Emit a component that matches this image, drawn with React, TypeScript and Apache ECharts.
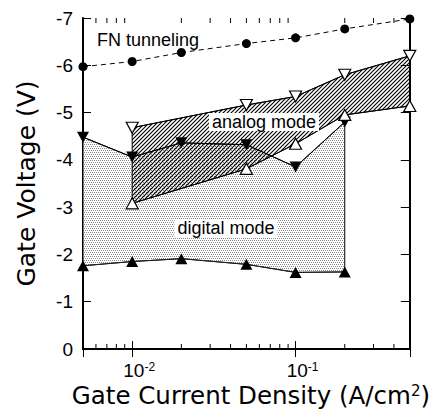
import React, { useEffect, useRef } from 'react';
import * as echarts from 'echarts';

// ---- data ----
const currentDensity = [0.005, 0.01, 0.02, 0.05, 0.1, 0.2, 0.5];
const fnTunneling = [-5.97, -6.08, -6.27, -6.46, -6.58, -6.77, -6.98];

const analogDensity = [0.01, 0.05, 0.1, 0.2, 0.5];
const analogUpper = [-4.68, -5.16, -5.34, -5.8, -6.2];
const analogLower = [-3.08, -3.81, -4.34, -4.95, -5.14];

const digitalDensity = [0.005, 0.01, 0.02, 0.05, 0.1, 0.2];
const digitalUpper = [-4.48, -4.06, -4.36, -4.32, -3.85, -4.8];
const digitalLower = [-1.76, -1.85, -1.91, -1.79, -1.62, -1.63];

const xMajorTicks = [0.01, 0.1];
const xTickLabels = ['10{sup|-2}', '10{sup|-1}'];
const xMinorTicks = [0.006, 0.007, 0.008, 0.009, 0.02, 0.03, 0.04, 0.05, 0.06, 0.07, 0.08, 0.09, 0.2, 0.3, 0.4];

const FONT = "'Liberation Sans', Arial, Helvetica, sans-serif";
const TITLE_FONT = "'DejaVu Sans', 'Liberation Sans', sans-serif";

function pts(xs: number[], ys: number[]) {
  return xs.map((x, i) => [x, ys[i]]);
}

function makeHatch() {
  const c = document.createElement('canvas');
  const n = 4;
  c.width = n;
  c.height = n;
  const ctx = c.getContext('2d')!;
  ctx.clearRect(0, 0, n, n);
  ctx.strokeStyle = '#000';
  ctx.lineWidth = 1.1;
  ctx.beginPath();
  ctx.moveTo(-1, n + 1);
  ctx.lineTo(n + 1, -1);
  ctx.moveTo(-2, 2);
  ctx.lineTo(2, -2);
  ctx.moveTo(n - 2, n + 2);
  ctx.lineTo(n + 2, n - 2);
  ctx.stroke();
  return c;
}

function makeStipple() {
  const c = document.createElement('canvas');
  c.width = 4;
  c.height = 4;
  const ctx = c.getContext('2d')!;
  ctx.fillStyle = '#ffffff';
  ctx.fillRect(0, 0, 4, 4);
  ctx.fillStyle = '#8a8a8a';
  ctx.fillRect(0, 0, 1, 1);
  ctx.fillRect(2, 0, 1, 1);
  ctx.fillRect(1, 2, 1, 1);
  ctx.fillRect(3, 2, 1, 1);
  return c;
}

export default function App() {
  const ref = useRef<HTMLDivElement>(null);

  useEffect(() => {
    if (!ref.current) return;
    const chart = echarts.init(ref.current, undefined, { renderer: 'svg' });

    const hatch = makeHatch();
    const stipple = makeStipple();

    const digitalBand = [
      ...pts(digitalDensity, digitalUpper),
      ...pts(digitalDensity, digitalLower).reverse(),
    ];
    const analogBand = [
      ...pts(analogDensity, analogUpper),
      ...pts(analogDensity, analogLower).reverse(),
    ];

    const bandSeries = (name: string, band: number[][], fill: any, z: number) => ({
      type: 'custom',
      name,
      z,
      silent: true,
      data: band,
      encode: { x: 0, y: 1 },
      renderItem: (params: any, api: any) => {
        if (params.dataIndex !== 0) return null;
        const points = band.map((p) => api.coord(p));
        return {
          type: 'polygon',
          shape: { points },
          style: { fill, stroke: '#000', lineWidth: 1 },
        };
      },
    });

    const xLabelFormatter = (v: number) => {
      for (let i = 0; i < xMajorTicks.length; i++) {
        if (Math.abs(Math.log10(v) - Math.log10(xMajorTicks[i])) < 1e-6) return xTickLabels[i];
      }
      return '';
    };

    const axisLineStyle = { color: '#000', width: 2 };

    const option: any = {
      animation: false,
      backgroundColor: '#fff',
      grid: { left: 83, right: 21, top: 18, bottom: 70 },
      xAxis: [
        {
          type: 'log',
          logBase: 10,
          min: 0.005,
          max: 0.5,
          position: 'bottom',
          axisLine: { lineStyle: axisLineStyle },
          axisTick: { inside: true, length: 8, lineStyle: { color: '#000', width: 1 } },
          axisLabel: {
            formatter: xLabelFormatter,
            margin: 12,
            color: '#000',
            fontFamily: FONT,
            fontSize: 19,
            lineHeight: 18,
            padding: [0, 0, 0, 14],
            rich: { sup: { fontSize: 12, lineHeight: 18, verticalAlign: 'top', fontFamily: FONT, color: '#000' } },
          },
          splitLine: { show: false },
          minorTick: { show: false },
          name: 'Gate Current Density (A/cm{sup|2})',
          nameLocation: 'middle',
          nameGap: 34,
          nameMoveOverlap: false,
          nameTextStyle: {
            fontFamily: TITLE_FONT,
            fontSize: 24.5,
            lineHeight: 24,
            color: '#000',
            padding: [0, 0, 0, 9],
            rich: { sup: { fontSize: 15, lineHeight: 24, verticalAlign: 'top', fontFamily: TITLE_FONT, color: '#000' } },
          },
        },
        {
          type: 'log',
          logBase: 10,
          min: 0.005,
          max: 0.5,
          position: 'top',
          axisLine: { lineStyle: axisLineStyle },
          axisTick: { inside: true, length: 8, lineStyle: { color: '#000', width: 1 } },
          axisLabel: { show: false },
          splitLine: { show: false },
        },
      ],
      yAxis: [
        {
          type: 'value',
          min: -7,
          max: 0,
          interval: 1,
          inverse: true,
          position: 'left',
          axisLine: { lineStyle: axisLineStyle },
          axisTick: { inside: true, length: 8, lineStyle: { color: '#000', width: 1 } },
          axisLabel: { color: '#000', fontFamily: FONT, fontSize: 19, margin: 10 },
          splitLine: { show: false },
          name: 'Gate Voltage (V)',
          nameLocation: 'middle',
          nameGap: 44,
          nameMoveOverlap: false,
          nameRotate: 90,
          nameTextStyle: { fontFamily: TITLE_FONT, fontSize: 25, color: '#000' },
        },
        {
          type: 'value',
          min: -7,
          max: 0,
          interval: 1,
          inverse: true,
          position: 'right',
          axisLine: { lineStyle: axisLineStyle },
          axisTick: { inside: true, length: 9, lineStyle: { color: '#000', width: 1 } },
          axisLabel: { show: false },
          splitLine: { show: false },
        },
      ],
      series: [
        bandSeries('digital mode band', digitalBand, { image: stipple, repeat: 'repeat', imageWidth: 4, imageHeight: 4 }, 1),
        bandSeries('analog mode band', analogBand, { image: hatch, repeat: 'repeat', imageWidth: 4, imageHeight: 4 }, 2),
        {
          type: 'line',
          name: 'digital lower',
          z: 3,
          data: pts(digitalDensity, digitalLower),
          symbol: 'triangle',
          symbolSize: [12, 11],
          itemStyle: { color: '#000' },
          lineStyle: { color: '#222', width: 1 },
        },
        {
          type: 'line',
          name: 'digital upper',
          z: 3,
          data: pts(digitalDensity, digitalUpper),
          symbol: 'triangle',
          symbolRotate: 180,
          symbolSize: [12, 11],
          itemStyle: { color: '#000' },
          lineStyle: { color: '#000', width: 1 },
        },
        {
          type: 'line',
          name: 'analog lower',
          z: 4,
          data: pts(analogDensity, analogLower),
          symbol: 'triangle',
          symbolSize: [12, 11],
          itemStyle: { color: '#fff', borderColor: '#000', borderWidth: 1.2 },
          lineStyle: { color: '#000', width: 1 },
        },
        {
          type: 'line',
          name: 'analog upper',
          z: 4,
          data: pts(analogDensity, analogUpper),
          symbol: 'triangle',
          symbolRotate: 180,
          symbolSize: [12, 11],
          itemStyle: { color: '#fff', borderColor: '#000', borderWidth: 1.2 },
          lineStyle: { color: '#000', width: 1 },
        },
        {
          type: 'line',
          name: 'FN tunneling',
          z: 4,
          data: pts(currentDensity, fnTunneling),
          symbol: 'circle',
          symbolSize: 9,
          itemStyle: { color: '#000' },
          lineStyle: { color: '#000', width: 1, type: [5, 4] },
        },
        {
          type: 'custom',
          name: 'minor ticks',
          z: 5,
          silent: true,
          data: xMinorTicks.map((v) => [v, 0]),
          encode: { x: 0, y: 1 },
          renderItem: (params: any, api: any) => {
            const v = api.value(0);
            const b = api.coord([v, 0]);
            const t = api.coord([v, -7]);
            return {
              type: 'group',
              children: [
                { type: 'line', shape: { x1: b[0], y1: b[1], x2: b[0], y2: b[1] - 5 }, style: { stroke: '#000', lineWidth: 1 } },
                { type: 'line', shape: { x1: t[0], y1: t[1], x2: t[0], y2: t[1] + 5 }, style: { stroke: '#000', lineWidth: 1 } },
              ],
            };
          },
        },
      ],
      graphic: [
        {
          type: 'text',
          x: 97,
          y: 40,
          z: 10,
          style: {
            text: 'FN tunneling',
            font: `18px ${FONT}`,
            fill: '#000',
            align: 'left',
            verticalAlign: 'middle',
            textAlign: 'left',
            textVerticalAlign: 'middle',
          },
        },
        {
          type: 'text',
          x: 264,
          y: 122,
          z: 10,
          style: {
            text: 'analog mode',
            font: `18px ${FONT}`,
            fill: '#000',
            align: 'center',
            verticalAlign: 'middle',
            textAlign: 'center',
            textVerticalAlign: 'middle',
            backgroundColor: '#fff',
            padding: [0, 3, 0, 3],
          },
        },
        {
          type: 'text',
          x: 226,
          y: 228,
          z: 10,
          style: {
            text: 'digital mode',
            font: `18px ${FONT}`,
            fill: '#000',
            align: 'center',
            verticalAlign: 'middle',
            textAlign: 'center',
            textVerticalAlign: 'middle',
            backgroundColor: '#fff',
            padding: [0, 3, 0, 3],
          },
        },
      ],
    };

    chart.setOption(option);
    return () => chart.dispose();
  }, []);

  return (
    <div
      ref={ref}
      style={{ position: 'fixed', left: 0, top: 0, width: 433, height: 419, background: '#fff' }}
    />
  );
}
